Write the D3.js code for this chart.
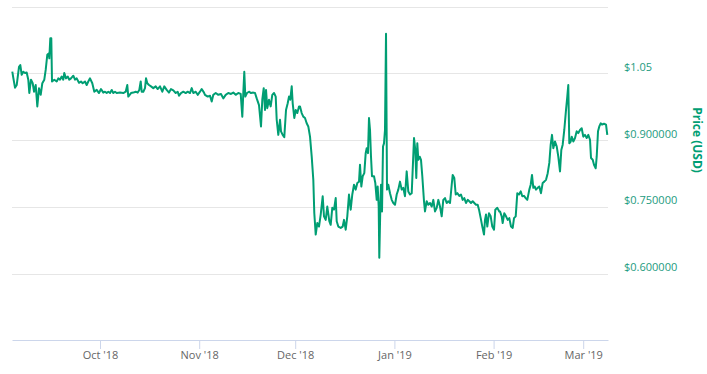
<!DOCTYPE html>
<html>
<head>
<meta charset="utf-8">
<script src="https://cdn.jsdelivr.net/npm/d3@7"></script>
<style>
  body { margin: 0; background: #fff; }
  text { font-family: "Open Sans", "Liberation Sans", sans-serif; }
</style>
</head>
<body>
<div id="chart"></div>
<script>
// tamaño del lienzo
var width = 707
var height = 374

// datos: dias desde el 1 sep 2018 y precio en USD
var dayNum = [
  2.59, 2.91, 3.44, 3.97, 4.69, 5.09, 5.53, 6.03, 6.56, 7.09, 7.59, 7.91, 8.44, 8.97, 9.38, 9.91,
  10.41, 10.94, 11.47, 11.97, 12.59, 13.03, 13.53, 13.97, 14.16, 14.47, 14.78, 15.0, 15.72, 16.47,
  16.97, 17.5, 18.03, 18.53, 18.84, 19.38, 19.91, 20.41, 20.94, 21.66, 22.19, 22.72, 23.44, 24.06,
  24.59, 25.31, 25.84, 26.34, 26.88, 27.59, 28.22, 28.97, 29.69, 30.31, 31.03,
  31.56, 32.09, 32.59, 33.13, 33.66, 34.16, 34.69, 35.22, 36.25, 37.28, 38.03, 38.53, 38.84, 39.69,
  40.41, 41.16, 41.78, 42.28, 42.72, 43.03, 43.53, 44.06, 44.38, 44.78, 45.31, 45.94, 46.66, 47.41,
  48.03, 48.75, 49.47, 50.09, 50.84, 51.56, 52.19, 52.91, 53.66, 54.28, 54.69, 55.31, 56.03, 56.78,
  57.41, 58.13, 58.66, 59.16, 59.91, 60.53, 61.25, 61.78, 62.5,
  62.81, 63.66, 64.38, 64.91, 65.41, 66.16, 66.97, 67.81, 68.53, 69.28, 70.09, 70.94, 71.66, 72.41,
  73.22, 73.97, 74.47, 74.78, 75.09, 75.41, 75.94, 76.56, 77.19, 77.91, 78.44, 78.97, 79.69, 80.31,
  80.72, 81.16, 81.56, 81.88, 82.28, 82.81, 83.34, 83.84, 84.38, 84.91, 85.22, 85.72, 86.25, 86.56,
  87.09, 87.59, 88.13, 88.66, 89.06, 89.47, 89.91, 90.22, 90.72, 91.16, 91.66, 92.19,
  92.5, 93.03, 93.53, 94.06, 94.59, 95.09, 95.63, 96.16, 96.66, 96.97, 97.41, 97.91, 98.44, 98.97,
  99.59, 100.0, 100.53, 101.03, 101.66, 102.09, 102.59, 103.13, 103.66, 103.97, 104.47, 105.22,
  105.84, 106.25, 106.78, 107.28, 107.81, 108.34, 108.84, 109.38, 109.91, 110.41, 110.94, 111.25,
  111.66, 112.09, 112.59, 113.03, 113.34, 113.75, 114.06, 114.38, 114.69, 115.0, 115.63, 116.03,
  116.47, 116.78, 117.09, 117.28, 117.59, 117.81, 118.13, 118.44, 118.75, 119.06, 119.38, 119.69,
  120.09, 120.63, 121.16, 121.66, 122.19, 122.72, 123.22,
  123.75, 124.28, 124.78, 125.31, 125.84, 126.34, 126.88, 127.41, 127.72, 128.13, 128.53, 128.84,
  129.16, 129.47, 129.91, 130.31, 130.72, 131.25, 131.56, 132.09, 132.59, 133.13, 133.66, 134.16,
  134.69, 135.22, 135.72, 136.25, 136.78, 137.28, 137.81, 138.34, 138.84, 139.38, 139.91, 140.22,
  140.72, 141.16, 141.66, 142.28, 142.81, 143.34, 143.84, 144.38, 144.91, 145.41, 145.94, 146.47,
  146.97, 147.5, 148.03, 148.44, 148.97, 149.47, 150.0, 150.31, 150.63, 151.03, 151.56, 152.09,
  152.59, 153.13, 153.53, 154.16, 154.78,
  155.0, 155.53, 155.84, 156.34, 156.88, 157.41, 157.91, 158.44, 158.97, 159.38, 159.91, 160.41,
  160.94, 161.47, 161.97, 162.5, 163.03, 163.53, 164.16, 164.59, 165.0, 165.41, 165.84, 166.25,
  166.78, 167.28, 167.81, 168.34, 168.84, 169.38, 169.91, 170.41, 170.84, 171.25, 171.66, 172.19,
  172.72, 173.22, 173.75, 174.16, 174.59, 175.09, 175.63, 176.03, 176.34, 176.66, 177.09, 177.41,
  177.91, 178.44, 178.97, 179.47, 180.0, 180.53, 181.03, 181.56, 182.09, 182.59, 183.13, 183.44,
  183.97, 184.38, 184.91, 185.22, 185.63, 186.03, 186.47, 186.88, 187.5, 188.13, 188.53
]
var price = [
  1.054, 1.040, 1.018, 1.024, 1.065, 1.069, 1.047, 1.054, 1.051, 1.052, 1.036, 1.006, 1.036, 1.028, 1.009, 1.024,
  0.976, 1.017, 1.002, 1.028, 1.036, 1.058, 1.092, 1.095, 1.084, 1.129, 1.129, 1.032, 1.036, 1.032,
  1.039, 1.036, 1.043, 1.036, 1.051, 1.039, 1.043, 1.036, 1.039, 1.045, 1.036, 1.039, 1.029, 1.032,
  1.028, 1.032, 1.024, 1.032, 1.039, 1.028, 1.009, 1.013, 1.006, 1.015, 1.007,
  1.009, 1.006, 1.009, 1.006, 1.013, 1.006, 1.009, 1.006, 1.007, 1.006, 1.009, 1.024, 0.998, 1.006,
  1.007, 1.009, 1.007, 1.013, 1.032, 1.009, 1.009, 1.017, 1.039, 1.028, 1.024, 1.021, 1.017, 1.021,
  1.015, 1.021, 1.009, 1.021, 1.013, 1.007, 1.015, 1.012, 1.006, 1.009, 1.000, 1.006, 1.009, 1.006,
  1.009, 1.006, 1.017, 1.006, 1.009, 1.002, 1.009, 1.015, 1.007,
  1.002, 0.998, 1.000, 0.987, 1.002, 1.006, 1.002, 1.004, 0.994, 1.002, 1.006, 1.004, 1.007, 1.002,
  1.006, 1.004, 0.953, 1.006, 1.054, 0.998, 1.006, 1.009, 1.006, 1.007, 1.006, 0.994, 0.979, 0.931,
  0.991, 1.017, 0.968, 1.013, 0.972, 0.991, 0.976, 1.002, 1.006, 0.998, 0.946, 0.912, 0.946, 0.920,
  0.912, 0.907, 0.968, 0.983, 0.998, 0.991, 1.021, 0.983, 0.950, 0.968, 0.961, 0.976,
  0.976, 0.961, 0.953, 0.950, 0.938, 0.931, 0.908, 0.863, 0.811, 0.736, 0.688, 0.714, 0.706, 0.733,
  0.774, 0.729, 0.721, 0.751, 0.718, 0.710, 0.748, 0.744, 0.770, 0.718, 0.706, 0.703,
  0.706, 0.721, 0.699, 0.729, 0.778, 0.744, 0.778, 0.800, 0.789, 0.804, 0.807, 0.845,
  0.796, 0.819, 0.826, 0.871, 0.882, 0.871, 0.950, 0.923, 0.863, 0.819, 0.819, 0.804,
  0.766, 0.796, 0.751, 0.636, 0.744, 0.800, 0.740, 0.886, 0.893, 0.923, 1.139, 0.789,
  0.800, 0.781, 0.766, 0.759, 0.755, 0.778, 0.789,
  0.807, 0.789, 0.793, 0.774, 0.830, 0.785, 0.778, 0.781, 0.834, 0.905, 0.878, 0.815,
  0.893, 0.856, 0.863, 0.856, 0.819, 0.763, 0.740, 0.763, 0.755, 0.759, 0.751, 0.766,
  0.740, 0.748, 0.766, 0.751, 0.729, 0.766, 0.770, 0.759, 0.763, 0.759, 0.800, 0.822,
  0.815, 0.778, 0.781, 0.775, 0.778, 0.766, 0.770, 0.759, 0.766, 0.763, 0.759, 0.763,
  0.759, 0.755, 0.755, 0.744, 0.725, 0.706, 0.688, 0.721, 0.733, 0.706, 0.736, 0.729,
  0.706, 0.699, 0.744, 0.748, 0.740,
  0.740, 0.729, 0.714, 0.736, 0.729, 0.721, 0.725, 0.706, 0.703, 0.725, 0.729, 0.781,
  0.778, 0.785, 0.774, 0.775, 0.770, 0.766, 0.789, 0.800, 0.822, 0.793, 0.796, 0.789,
  0.793, 0.796, 0.781, 0.804, 0.807, 0.811, 0.826, 0.849, 0.890, 0.912, 0.882, 0.897,
  0.886, 0.863, 0.830, 0.878, 0.890, 0.923, 0.968, 0.998, 1.024, 0.893, 0.897, 0.908,
  0.897, 0.905, 0.920, 0.916, 0.923, 0.927, 0.908, 0.912, 0.905, 0.912, 0.901, 0.860,
  0.856, 0.845, 0.837, 0.863, 0.920, 0.931, 0.938, 0.935, 0.937, 0.935, 0.912
]

// ejes
var monthTicks = ['2018-10-01', '2018-11-01', '2018-12-01', '2019-01-01', '2019-02-01', '2019-03-01']
var gridValues = [0.6, 0.75, 0.9, 1.05, 1.2]
var yTickValues = [1.05, 0.9, 0.75, 0.6]
var yTickLabels = ['$1.05', '$0.900000', '$0.750000', '$0.600000']

var lineColor = '#009e73'
var base = Date.UTC(2018, 8, 1)
var toDate = function(d) { return new Date(base + d * 864e5) }

var data = dayNum.map(function(d, i) {
    return { date: toDate(d), price: price[i] }
})

var svg = d3.select('#chart')
    .append('svg')
    .attr('width', width)
    .attr('height', height)

var scaleX = d3.scaleUtc()
    .domain([toDate(2.5), toDate(188.75)])
    .range([12, 608])

var scaleY = d3.scaleLinear()
    .domain([0.45, 1.2])
    .range([340.5, 6.7])

// lineas de la rejilla
svg.append('g')
    .selectAll('line')
    .data(gridValues)
    .enter()
    .append('line')
    .attr('x1', 12)
    .attr('x2', 608)
    .attr('y1', (d) => Math.round(scaleY(d)) + 0.5)
    .attr('y2', (d) => Math.round(scaleY(d)) + 0.5)
    .attr('stroke', '#e6e6e6')
    .attr('stroke-width', 1)

// eje x
var xaxis = d3.axisBottom(scaleX)
    .tickValues(monthTicks.map((d) => new Date(d + 'T00:00:00Z')))
    .tickFormat(d3.utcFormat("%b '%y"))
    .tickSize(9)
    .tickSizeOuter(0)
    .tickPadding(2)

var gx = svg.append('g')
    .attr('transform', 'translate(0,340)')
    .call(xaxis)
gx.select('.domain').attr('stroke', '#ccd6eb')
gx.selectAll('.tick line').attr('stroke', '#ccd6eb')
gx.selectAll('.tick text')
    .attr('fill', '#666666')
    .style('font-size', '11px')
    .style('font-family', '"Open Sans", sans-serif')

// etiquetas del eje y (a la derecha)
svg.append('g')
    .selectAll('text')
    .data(yTickValues)
    .enter()
    .append('text')
    .attr('x', 624)
    .attr('y', (d) => scaleY(d) - 2.5)
    .attr('fill', '#1d9b80')
    .style('font-size', '11px')
    .text((d, i) => yTickLabels[i])

svg.append('text')
    .attr('transform', 'translate(693,140) rotate(90)')
    .attr('text-anchor', 'middle')
    .attr('fill', lineColor)
    .style('font-size', '12px')
    .style('font-weight', 'bold')
    .text('Price (USD)')

// serie de precios
var line = d3.line()
    .x((d) => scaleX(d.date))
    .y((d) => scaleY(d.price))

svg.append('path')
    .datum(data)
    .attr('d', line)
    .attr('fill', 'none')
    .attr('stroke', lineColor)
    .attr('stroke-width', 2)
    .attr('stroke-linejoin', 'round')
</script>
</body>
</html>
